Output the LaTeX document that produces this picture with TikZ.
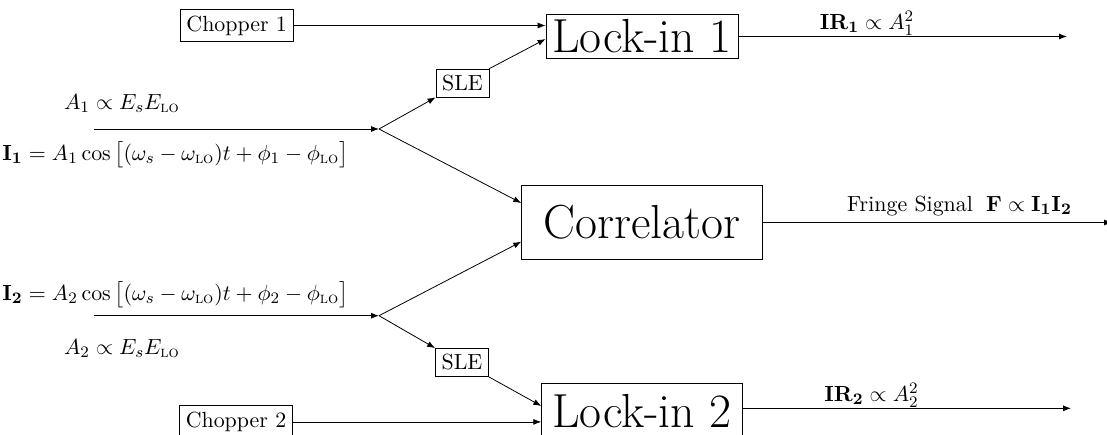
\documentclass[11pt,tikz,border=0pt]{standalone}
\usepackage{amsmath}
\usetikzlibrary{calc,arrows.meta}
\newcommand{\lo}{\text{\textsc{lo}}}
\tikzset{
  boxed/.style={draw, inner sep=0pt},
  chop/.style={boxed, minimum width=56.5pt, minimum height=16.2pt},
  slebox/.style={boxed, minimum width=26.5pt, minimum height=14pt},
  bigbox/.style={boxed, font=\fontsize{23.9}{28}\selectfont},
  lab/.style={inner sep=0pt},
  arr/.style={-{Latex[length=4pt,width=3pt]}},
}
\begin{document}
\begin{tikzpicture}[x=0.5pt,y=-0.5pt]
\clip (0,0) rectangle (1107,434);
% boxes
\node[chop] (C1) at (236.7,25.5) {Chopper 1};
\node[chop] (C2) at (236,421.9) {Chopper 2};
\node[slebox] (S1) at (462.5,83) {SLE};
\node[slebox] (S2) at (462,362.5) {SLE};
\node[bigbox, minimum width=96pt, minimum height=21.8pt] (L1) at (642,36.5) {Lock-in 1};
\node[bigbox, minimum width=100.3pt, minimum height=27.7pt] (L2) at (642,411) {Lock-in 2};
\node[bigbox, minimum width=120.3pt, minimum height=36.8pt] (CR) at (642,222.5) {Correlator};
% junctions and free ends
\coordinate (J1) at (379,129);
\coordinate (J2) at (379,315.7);
\coordinate (In1) at (93.6,129);
\coordinate (In2) at (93.6,315.7);
\coordinate (L1in) at ($(L1.west)+(0,2.5)$);
\coordinate (L2in) at ($(L2.west)+(0,-5)$);
\coordinate (L2out) at ($(L2.east)+(0,-2.7)$);
\coordinate (CRa) at ($(CR.west)+(0,-19.5)$);
\coordinate (CRb) at ($(CR.west)+(0,19.2)$);
\coordinate (O1) at (1067,36.5);
\coordinate (O2) at (1071,408.3);
\coordinate (O3) at (1112,222.5);
% connectors
\draw[arr] (C1.east) -- (C1.east -| L1.west);
\draw[arr] (C2.east) -- (C2.east -| L2.west);
\draw[arr] (S1.north east) -- (L1in);
\draw[arr] (S2.south east) -- (L2in);
\draw[arr] (In1) -- (J1);
\draw[arr] (In2) -- (J2);
\draw[arr] (J1) -- (S1.south west);
\draw[arr] (J1) -- (CRa);
\draw[arr] (J2) -- (S2.north west);
\draw[arr] (J2) -- (CRb);
\draw[arr] (L1.east) -- (L1.east -| O1);
\draw[arr] (L2out) -- (L2out -| O2);
\draw[arr] (CR.east) -- (CR.east -| O3);
% labels
\node[lab, anchor=base] (IR1) at (867,29.5) {$\mathbf{IR_1}\propto A_1^2$};
\node[lab, anchor=base] (IR2) at (871.5,401.5) {$\mathbf{IR_2}\propto A_2^2$};
\node[lab, anchor=base] (FS) at (959.5,211.5) {Fringe Signal\hspace{0.6em}$\mathbf{F}\propto\mathbf{I_1I_2}$};
\node[lab, anchor=base west] (A1) at (63.6,109) {$A_1\propto E_sE_{\lo}$};
\node[lab, anchor=base west] (E1) at (2,160) {$\mathbf{I_1}=A_1\cos\,\bigl[(\omega_s-\omega_{\lo})t+\phi_1-\phi_{\lo}\bigr]$};
\node[lab, anchor=base west] (E2) at (2,300.5) {$\mathbf{I_2}=A_2\cos\,\bigl[(\omega_s-\omega_{\lo})t+\phi_2-\phi_{\lo}\bigr]$};
\node[lab, anchor=base west] (A2) at (63.6,354) {$A_2\propto E_sE_{\lo}$};
\end{tikzpicture}
\end{document}
